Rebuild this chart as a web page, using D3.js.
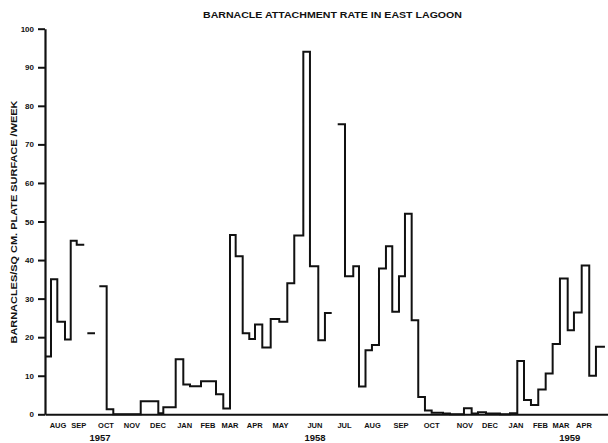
<!DOCTYPE html>
<html>
<head>
<meta charset="utf-8">
<script src="https://cdn.jsdelivr.net/npm/d3@7"></script>
<style>
  html, body { margin: 0; padding: 0; background: #fff; }
  svg { display: block; }
  text { font-family: "Liberation Sans", Arial, sans-serif; font-weight: bold; fill: #111; }
</style>
</head>
<body>
<svg id="chart" width="608" height="443"></svg>
<script>
// ---- Data (time measured in weeks from mid-July 1957) ----
const stepStart = [0, 0.92, 1.89, 3.07, 3.95, 4.87, 6.03, 6.50, 7.68, 8.34,
  9.47, 10.49, 14.70, 17.40, 18.17, 20.07, 21.24, 22.27, 23.96, 26.26,
  27.38, 28.41, 29.28, 30.36, 31.37, 32.25, 33.37, 34.66, 35.98, 37.21,
  38.28, 39.67, 40.69, 41.97, 42.99, 44.03, 44.95, 46.07, 47.34, 48.22,
  49.22, 50.21, 51.29, 52.36, 53.33, 54.36, 55.28, 56.31, 57.32, 58.35,
  59.38, 61.12, 62.19, 64.34, 65.52, 66.49, 67.72, 69.87, 71.41, 72.53,
  73.56, 74.63, 75.75, 76.89, 77.96, 79.08, 80.27, 81.23, 82.42, 83.58,
  84.61];
const lastStepEnd = 85.99;
// barnacles per sq cm plate surface per week (null = no record)
const rates = [15, 35, 24, 19.4, 45, 44, null, 21, null, 33.2,
  1.3, 0, 3.4, 0.3, 1.8, 14.3, 7.7, 7.3, 8.6, 5.2,
  1.5, 46.5, 41, 21, 19.5, 23.3, 17.3, 24.7, 24, 34,
  46.4, 94, 38.4, 19.2, 26.3, null, 75.2, 35.8, 38.4, 7.2,
  16.6, 18, 37.8, 43.6, 26.6, 35.8, 52, 24.4, 4.5, 1,
  0.4, 0.2, 0, 1.6, 0.2, 0.5, 0.2, 0, 0.3, 13.8,
  3.7, 2.4, 6.4, 10.6, 18.2, 35.2, 21.8, 26.4, 38.6, 10,
  17.5];
const monthLabels = ["AUG", "SEP", "OCT", "NOV", "DEC", "JAN", "FEB", "MAR", "APR", "MAY", "JUN",
  "JUL", "AUG", "SEP", "OCT", "NOV", "DEC", "JAN", "FEB", "MAR", "APR"];
const monthWeeks = [2.0, 5.17, 9.37, 13.36, 17.35, 21.45, 25.03, 28.41, 32.2, 36.16, 41.46,
  45.99, 50.29, 54.67, 59.38, 64.5, 68.33, 72.33, 76.09, 79.24, 82.77];
const yearLabels = ["1957", "1958", "1959"];
const yearWeeks = [8.45, 41.46, 80.6];
const yTicks = [0, 10, 20, 30, 40, 50, 60, 70, 80, 90, 100];
const titleText = "BARNACLE ATTACHMENT RATE IN EAST LAGOON";
const yTitleText = "BARNACLES/SQ CM. PLATE SURFACE /WEEK";

// ---- Scales ----
const svg = d3.select("#chart");
const x = d3.scaleLinear().domain([0, 86.46]).range([45, 608]);
const y = d3.scaleLinear().domain([0, 100]).range([414.3, 28.7]);

// ---- Step line ----
const pts = [];
stepStart.forEach((s, i) => {
  const e = i < stepStart.length - 1 ? stepStart[i + 1] : lastStepEnd;
  const v = rates[i];
  pts.push({ t: s, v: v });
  pts.push({ t: e, v: v });
});
const line = d3.line()
  .defined(d => d.v !== null)
  .x(d => x(d.t))
  .y(d => y(d.v));

// ---- X axis (baseline) ----
const xAxis = d3.axisBottom(x).tickValues([]).tickSizeOuter(0);
const gx = svg.append("g").attr("transform", `translate(0,${y(0)})`).call(xAxis);
gx.select(".domain").attr("stroke", "#111").attr("stroke-width", 2);

// ---- Y axis ----
const yAxis = d3.axisLeft(y).tickValues(yTicks).tickSize(7).tickPadding(4).tickSizeOuter(0);
const gy = svg.append("g").attr("transform", `translate(${x(0)},0)`).call(yAxis);
gy.select(".domain").attr("stroke", "#111").attr("stroke-width", 2.2);
gy.selectAll(".tick line").attr("stroke", "#111").attr("stroke-width", 2);
gy.selectAll(".tick text")
  .attr("font-family", "Liberation Sans, Arial, sans-serif")
  .attr("font-weight", "bold").attr("font-size", 8).attr("fill", "#111");

svg.append("path")
  .datum(pts)
  .attr("d", line)
  .attr("fill", "none")
  .attr("stroke", "#111")
  .attr("stroke-width", 2)
  .attr("stroke-linejoin", "miter");

// ---- Month labels ----
svg.append("g").selectAll("text")
  .data(monthLabels)
  .join("text")
  .attr("x", (d, i) => x(monthWeeks[i]))
  .attr("y", 427.5)
  .attr("text-anchor", "middle")
  .attr("font-size", 7.5)
  .text(d => d);

// ---- Year labels ----
svg.append("g").selectAll("text")
  .data(yearLabels)
  .join("text")
  .attr("x", (d, i) => x(yearWeeks[i]))
  .attr("y", 441)
  .attr("text-anchor", "middle")
  .attr("font-size", 9.5)
  .text(d => d);

// ---- Title ----
svg.append("text")
  .attr("x", 203).attr("y", 18.3)
  .attr("font-size", 8.5)
  .attr("textLength", 259).attr("lengthAdjust", "spacingAndGlyphs")
  .text(titleText);

// ---- Y title ----
svg.append("text")
  .attr("transform", "translate(16.8,222) rotate(-90)")
  .attr("text-anchor", "middle")
  .attr("font-size", 8.8)
  .attr("textLength", 243).attr("lengthAdjust", "spacingAndGlyphs")
  .text(yTitleText);
</script>
</body>
</html>
